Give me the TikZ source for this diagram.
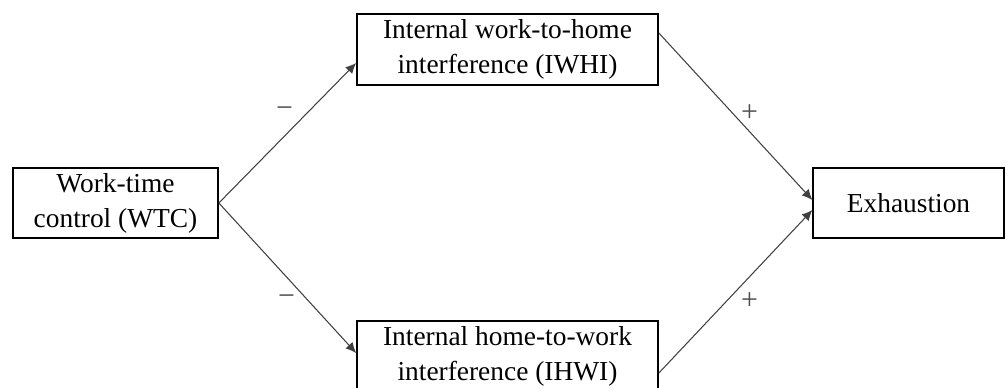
\documentclass[tikz,border=0pt]{standalone}
\usepackage{fontspec}
\setmainfont{Liberation Serif}
\usetikzlibrary{arrows.meta}

\tikzset{
  varbox/.style={rectangle, draw, line width=1pt, align=center,
    font=\fontsize{15.6pt}{19.9pt}\selectfont, inner sep=0pt},
  path/.style={draw=black!75, line width=0.6pt, -{Latex[length=6pt,width=5.5pt]}},
  sign/.style={text=black!70, font=\fontsize{17pt}{19.9pt}\selectfont}
}

\begin{document}
\begin{tikzpicture}[x=0.02cm, y=-0.02cm]
      \useasboundingbox (0,0) rectangle (1006,387);

      \node[varbox, minimum width=4.1cm, minimum height=1.4cm] (wtc) at (115.5,203) {Work-time\\control (WTC)};
      \node[varbox, minimum width=6.02cm, minimum height=1.42cm] (iwhi) at (507.5,49.5) {Internal work-to-home\\interference (IWHI)};
      \node[varbox, minimum width=6.02cm, minimum height=1.42cm] (ihwi) at (507.5,356.5) {Internal home-to-work\\interference (IHWI)};
      \node[varbox, minimum width=3.81cm, minimum height=1.4cm] (exh) at (908.5,203) {Exhaustion};

      \path[path] (wtc.east) -- node[sign, xshift=-0.06cm, yshift=0.42cm] {−} ([yshift=-0.27cm]iwhi.west);
      \path[path] (wtc.east) -- node[sign, xshift=-0.02cm, yshift=-0.44cm] {−} ([yshift=0.07cm]ihwi.west);
      \path[path] ([yshift=0.33cm]iwhi.east) -- node[sign, xshift=0.28cm, yshift=0.06cm] {+} ([yshift=0.06cm]exh.west);
      \path[path] ([yshift=-0.33cm]ihwi.east) -- node[sign, xshift=0.28cm, yshift=-0.2cm] {+} ([yshift=-0.14cm]exh.west);

    \end{tikzpicture}
\end{document}
